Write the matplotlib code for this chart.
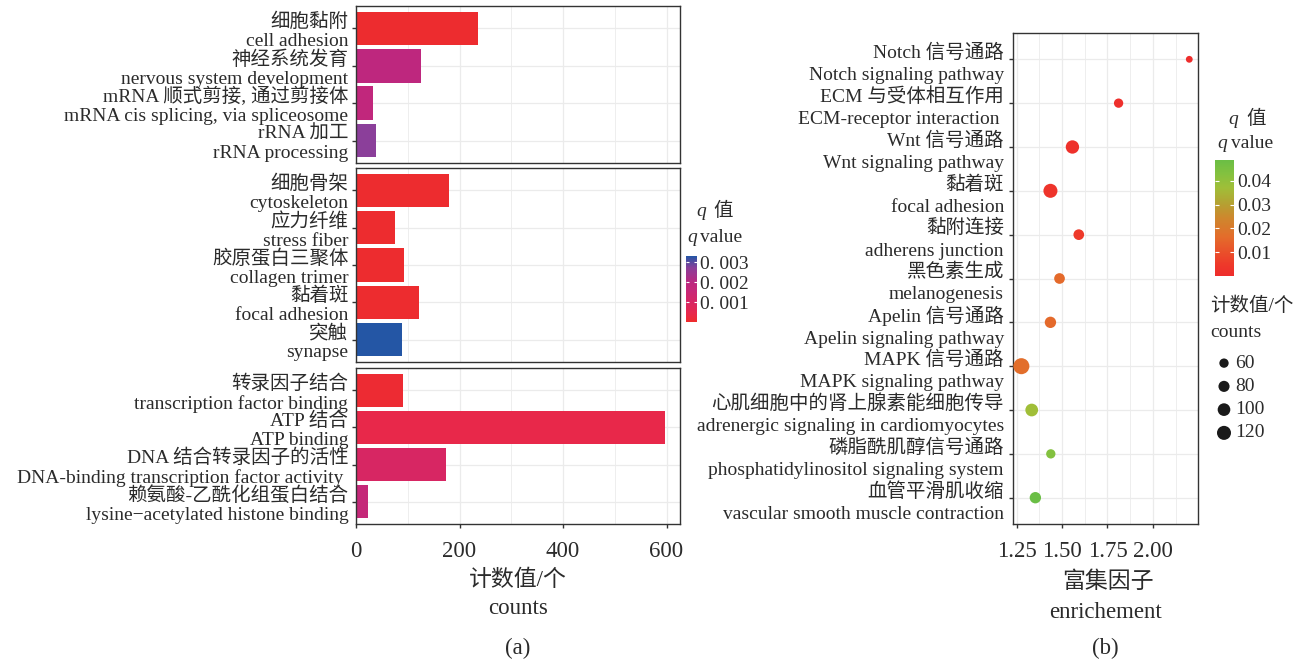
import numpy as np
import matplotlib
matplotlib.use("Agg")
import matplotlib.pyplot as plt
from matplotlib.colors import LinearSegmentedColormap, Normalize
from matplotlib.cm import ScalarMappable

plt.rcParams['font.family'] = ['Liberation Serif', 'Noto Sans CJK SC']
plt.rcParams['axes.unicode_minus'] = False

# ---------------- data: (a) GO enrichment ----------------
bp_labels = ["细胞黏附\ncell adhesion",
             "神经系统发育\nnervous system development",
             "mRNA 顺式剪接, 通过剪接体\nmRNA cis splicing, via spliceosome",
             "rRNA 加工\nrRNA processing"]
bp_counts = [236, 126, 33, 39]
bp_q = [0.00005, 0.0019, 0.0018, 0.0027]

cc_labels = ["细胞骨架\ncytoskeleton",
             "应力纤维\nstress fiber",
             "胶原蛋白三聚体\ncollagen trimer",
             "黏着斑\nfocal adhesion",
             "突触\nsynapse"]
cc_counts = [179, 76, 93, 121, 88]
cc_q = [0.00005, 0.00005, 0.00005, 0.00005, 0.0033]

mf_labels = ["转录因子结合\ntranscription factor binding",
             "ATP 结合\nATP binding",
             "DNA 结合转录因子的活性\nDNA-binding transcription factor activity ",
             "赖氨酸-乙酰化组蛋白结合\nlysine\u2212acetylated histone binding"]
mf_counts = [90, 597, 173, 24]
mf_q = [0.0001, 0.0004, 0.0010, 0.0016]

go_xticks = [0, 200, 400, 600]
go_q_ticks = [0.001, 0.002, 0.003]
go_q_ticklabels = ["0. 001", "0. 002", "0. 003"]

# ---------------- data: (b) KEGG enrichment ----------------
kegg_labels = ["Notch 信号通路\nNotch signaling pathway",
               "ECM 与受体相互作用\nECM-receptor interaction ",
               "Wnt 信号通路\nWnt signaling pathway",
               "黏着斑\nfocal adhesion",
               "黏附连接\nadherens junction",
               "黑色素生成\nmelanogenesis",
               "Apelin 信号通路\nApelin signaling pathway",
               "MAPK 信号通路\nMAPK signaling pathway",
               "心肌细胞中的肾上腺素能细胞传导\nadrenergic signaling in cardiomyocytes",
               "磷脂酰肌醇信号通路\nphosphatidylinositol signaling system",
               "血管平滑肌收缩\nvascular smooth muscle contraction"]
kegg_enrich = [2.200, 1.811, 1.557, 1.436, 1.592, 1.486, 1.436, 1.276, 1.333, 1.438, 1.353]
kegg_counts = [38, 60, 110, 120, 75, 75, 83, 153, 101, 60, 83]
kegg_q = [0.0005, 0.001, 0.002, 0.003, 0.005, 0.016, 0.016, 0.017, 0.037, 0.043, 0.0488]

kegg_xticks = [1.25, 1.50, 1.75, 2.00]
kegg_xticklabels = ["1.25", "1.50", "1.75", "2.00"]
kegg_q_ticks = [0.01, 0.02, 0.03, 0.04]
kegg_q_ticklabels = ["0.01", "0.02", "0.03", "0.04"]
size_legend_values = [60, 80, 100, 120]

# ---------------- styling ----------------
W, H, DPI = 1307, 663, 100
TXT = '#2b2b2b'
GRID = '#EBEBEB'
BORDER = '#333333'

cmap_go = LinearSegmentedColormap.from_list('go', [
    (0.0, '#EE2C2C'), (0.12, '#E8284A'), (0.30, '#D72663'), (0.48, '#C62879'),
    (0.58, '#BE277E'), (0.82, '#8B3F9A'), (1.0, '#2456A5')])
norm_go = Normalize(0, 0.0033)

cmap_kegg = LinearSegmentedColormap.from_list('kegg', [
    (0.0, '#EE2C2C'), (0.1, '#EE392A'), (0.33, '#E46B2B'), (0.5, '#CE872D'),
    (0.62, '#B5A032'), (0.76, '#A0BE38'), (0.88, '#84C13F'), (1.0, '#6ABE45')])
norm_kegg = Normalize(0, 0.0488)


def size_of(c):
    return 0.95 * np.asarray(c, dtype=float) - 12


def rect(x0, y0, x1, y1):
    return [x0 / W, 1 - y1 / H, (x1 - x0) / W, (y1 - y0) / H]


def fx(x):
    return x / W


def fy(y):
    return 1 - y / H


def style_axes(ax):
    for s in ax.spines.values():
        s.set_color(BORDER)
        s.set_linewidth(1.0)
    ax.set_axisbelow(True)
    ax.grid(which='major', color=GRID, linewidth=0.9)
    ax.grid(which='minor', axis='x', color=GRID, linewidth=0.6)
    ax.tick_params(which='major', length=3, width=1.0, color=BORDER, labelcolor=TXT)
    ax.tick_params(which='minor', length=0)


fig = plt.figure(figsize=(W / DPI, H / DPI), dpi=DPI)

# ---------------- panel (a) ----------------
facets = [(bp_labels, bp_counts, bp_q, (356, 6, 680, 163)),
          (cc_labels, cc_counts, cc_q, (356, 168, 680, 362)),
          (mf_labels, mf_counts, mf_q, (356, 368, 680, 524))]
for i, (labs, cnts, qs, r) in enumerate(facets):
    ax = fig.add_axes(rect(*r))
    n = len(labs)
    pos = np.arange(n)
    ax.barh(pos, cnts, height=0.9, color=cmap_go(norm_go(np.array(qs))), zorder=2)
    ax.set_ylim(n - 1 + 0.6, -0.6)
    ax.set_xlim(0, 626)
    ax.set_xticks(go_xticks)
    ax.set_xticks([100, 300, 500], minor=True)
    ax.set_yticks(pos)
    ax.set_yticklabels(labs, fontsize=14, linespacing=1.17, ha='right',
                       fontweight='light')
    for t in ax.get_yticklabels():
        t.set_y(t.get_position()[1])
    style_axes(ax)
    ax.tick_params(axis='y', pad=2.5)
    if i < 2:
        ax.tick_params(axis='x', which='both', bottom=False, labelbottom=False)
    else:
        ax.set_xticklabels([str(v) for v in go_xticks], fontsize=16.5)
        ax.tick_params(axis='x', pad=9.5)

cax1 = fig.add_axes(rect(686, 256, 697, 322))
cb1 = fig.colorbar(ScalarMappable(norm=norm_go, cmap=cmap_go), cax=cax1)
cb1.outline.set_visible(False)
cb1.set_ticks(go_q_ticks)
cb1.set_ticklabels(go_q_ticklabels)
cax1.tick_params(axis='y', direction='in', length=2.5, width=0.8, color='white',
                 left=True, right=True, labelleft=False, labelright=True,
                 labelsize=14, labelcolor=TXT, pad=2.5)

fig.text(fx(696), fy(216), 'q', fontsize=14, style='italic', color=TXT, va='baseline', ha='left')
fig.text(fx(713), fy(216), '值', fontsize=14, color=TXT, va='baseline', ha='left', fontweight='light')
fig.text(fx(687), fy(242), 'q', fontsize=14, style='italic', color=TXT, va='baseline', ha='left')
fig.text(fx(700), fy(242), 'value', fontsize=14, color=TXT, va='baseline', ha='left')

fig.text(fx(518), fy(580), '计数值/个', fontsize=16.5, color=TXT, ha='center', va='center', fontweight='light')
fig.text(fx(518), fy(609), 'counts', fontsize=16.5, color=TXT, ha='center', va='center')
fig.text(fx(518), fy(648), '(a)', fontsize=16.5, color=TXT, ha='center', va='center')

# ---------------- panel (b) ----------------
axb = fig.add_axes(rect(1013, 33, 1198, 524))
nk = len(kegg_labels)
posk = np.arange(nk)
axb.scatter(kegg_enrich, posk, s=size_of(kegg_counts),
            c=cmap_kegg(norm_kegg(np.array(kegg_q))), edgecolors='none', zorder=3)
axb.set_ylim(nk - 1 + 0.6, -0.6)
axb.set_xlim(1.230, 2.248)
axb.set_xticks(kegg_xticks)
axb.set_xticklabels(kegg_xticklabels, fontsize=16.5)
axb.set_xticks([1.375, 1.625, 1.875, 2.125], minor=True)
axb.set_yticks(posk)
axb.set_yticklabels(kegg_labels, fontsize=14, linespacing=1.4, ha='right',
                    fontweight='light')
style_axes(axb)
axb.tick_params(axis='y', pad=3.5)
axb.tick_params(axis='x', pad=9.5)

cax2 = fig.add_axes(rect(1215, 160, 1234, 276))
cb2 = fig.colorbar(ScalarMappable(norm=norm_kegg, cmap=cmap_kegg), cax=cax2)
cb2.outline.set_visible(False)
cb2.set_ticks(kegg_q_ticks)
cb2.set_ticklabels(kegg_q_ticklabels)
cax2.tick_params(axis='y', direction='in', length=3, width=0.8, color='white',
                 left=True, right=True, labelleft=False, labelright=True,
                 labelsize=14, labelcolor=TXT, pad=2.5)

fig.text(fx(1228), fy(124), 'q', fontsize=14, style='italic', color=TXT, va='baseline', ha='left')
fig.text(fx(1246), fy(124), '值', fontsize=14, color=TXT, va='baseline', ha='left', fontweight='light')
fig.text(fx(1217), fy(148), 'q', fontsize=14, style='italic', color=TXT, va='baseline', ha='left')
fig.text(fx(1231), fy(148), 'value', fontsize=14, color=TXT, va='baseline', ha='left')

fig.text(fx(1210), fy(311), '计数值/个', fontsize=14, color=TXT, va='baseline', ha='left', fontweight='light')
fig.text(fx(1210), fy(337), 'counts', fontsize=14, color=TXT, va='baseline', ha='left')

# size legend drawn in its own axes
axl = fig.add_axes(rect(1210, 351.5, 1300, 444.5))
axl.set_xlim(0, 90)
nl = len(size_legend_values)
axl.set_ylim(nl - 0.5, -0.5)
axl.axis('off')
axl.scatter(np.full(nl, 14), np.arange(nl), s=size_of(size_legend_values), color='#1a1a1a',
            edgecolors='none')
for j, v in enumerate(size_legend_values):
    axl.text(25, j, str(v), fontsize=14, color=TXT, va='center', ha='left')

fig.text(fx(1108), fy(582), '富集因子', fontsize=16.5, color=TXT, ha='center', va='center', fontweight='light')
fig.text(fx(1106), fy(612), 'enrichement', fontsize=16.5, color=TXT, ha='center', va='center')
fig.text(fx(1105), fy(648), '(b)', fontsize=16.5, color=TXT, ha='center', va='center')

fig.savefig('out.png', dpi=DPI)
